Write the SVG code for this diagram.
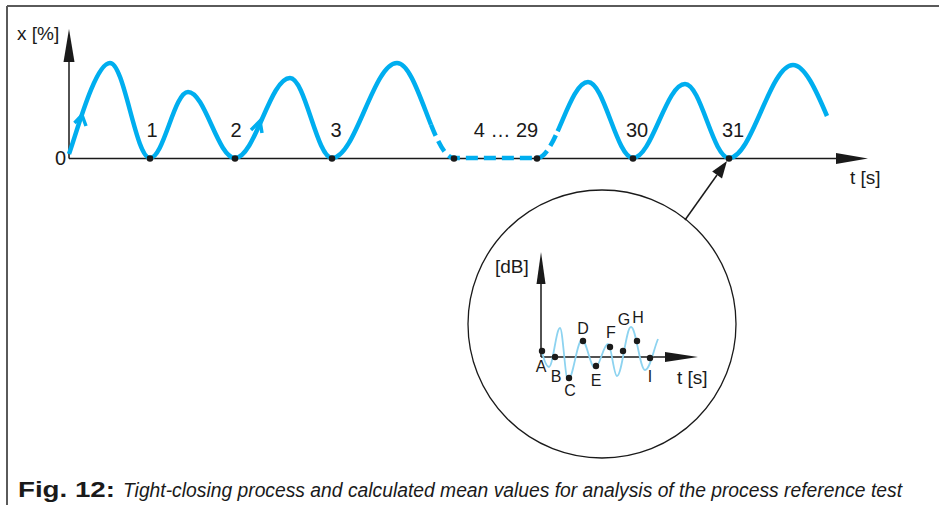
<svg xmlns="http://www.w3.org/2000/svg" width="939" height="505" viewBox="0 0 939 505">
<style>
.frame{stroke:#5a5a5a;stroke-width:2;fill:none}
.axis{stroke:#1a1a1a;stroke-width:1.5;fill:none}
.head{fill:#1a1a1a;stroke:none}
.wave{stroke:#00aeef;stroke-width:4.5;fill:none;stroke-linejoin:round}
.dash{stroke-dasharray:12 6}
.chev{stroke:#00aeef;stroke-width:3.5;fill:none;stroke-linejoin:miter;stroke-linecap:butt}
.small{stroke:#8dd3f0;stroke-width:1.8;fill:none}
.dot{fill:#1a1a1a}
.lbl{font-family:"Liberation Sans",Arial,sans-serif;fill:#1a1a1a}
.num{font-size:20px;text-anchor:middle}
.let{font-size:16px;text-anchor:middle}
</style>
<rect width="939" height="505" fill="#ffffff"/>
<g id="frame">
<path class="frame" d="M7,6 H939 M7,6 V505"/>
</g>
<g id="main-axes">
<path class="axis" d="M69,158.5 V60 M69,158.5 H840"/>
<polygon class="head" points="69,29 74.5,62 63.5,62"/>
<polygon class="head" points="868,158.5 836,153 836,164"/>
<text class="lbl" x="17" y="40" font-size="19">x [%]</text>
<text class="lbl" x="66" y="165" font-size="20" text-anchor="end">0</text>
<text class="lbl" x="850" y="184" font-size="19">t [s]</text>
</g>
<g id="process-curve">
<path class="wave" d="M69,154 C76,135 95,63 110,63 C124.5,63 135.5,158 150,158 C163.8,158 174.2,92 188,92 C205.1,92 217.9,158 235,158 C255,158 270,78 290,78 C305.2,78 316.8,158 332,158 C355.6,158 373.4,63 397,63 C409.42,63 420,97.2 430.96,124.56"/>
<path class="wave dash" d="M430.96,124.56 C438.26,142.8 445.72,158 454,158 L537,158 C544.4,158 551.08,145.84 557.62,131.25"/>
<path class="wave" d="M557.62,131.25 C567.42,109.36 576.9,82 588,82 C604.3,82 616.7,158 633,158 C651.9,158 666.1,84 685,84 C701,84 713,158 729,158 C752.2,158 769.8,65 793,65 C804.6,65 816,90 827,116"/>
<polyline class="chev" points="74.5,123 82,115 86,126"/>
<polyline class="chev" points="251,130 260,121 262,133"/>
</g>
<g id="cycle-points">
<circle class="dot" cx="150" cy="158.5" r="3.3"/>
<circle class="dot" cx="235" cy="158.5" r="3.3"/>
<circle class="dot" cx="332" cy="158.5" r="3.3"/>
<circle class="dot" cx="454" cy="158.5" r="3.3"/>
<circle class="dot" cx="537" cy="158.5" r="3.3"/>
<circle class="dot" cx="633" cy="158.5" r="3.3"/>
<circle class="dot" cx="729" cy="158.5" r="3.3"/>
<text class="lbl num" x="152" y="137">1</text>
<text class="lbl num" x="236" y="137">2</text>
<text class="lbl num" x="336" y="137">3</text>
<text class="lbl num" x="506" y="137">4 … 29</text>
<text class="lbl num" x="637" y="137">30</text>
<text class="lbl num" x="733" y="137">31</text>
</g>
<g id="connectors">
<line class="axis" x1="685" y1="220" x2="717" y2="175"/>
<polygon class="head" points="727,161 722,178.4 712.2,171.4"/>
</g>
<g id="detail-circle">
<circle cx="602" cy="324" r="134" fill="none" stroke="#1a1a1a" stroke-width="1.3"/>
<path class="axis" d="M541,357 V280 M541,357 H668"/>
<polygon class="head" points="541,252 545.5,284 536.5,284"/>
<polygon class="head" points="698,357 665,352 665,362"/>
<path class="small" d="M542,352 C544,360 546,367 549,367 C553,367 556,328 560,328 C562.9,328 565.1,380 568,380 C573.1,380 576.9,340 582,340 C586.7,340 590.3,368 595,368 C599.7,368 603.3,344 608,344 C611.3,344 613.7,376 617,376 C622.1,376 625.9,327 631,327 C636.1,327 639.9,370 645,370 C650,370 654,348 658,339"/>
<circle class="dot" cx="542" cy="351" r="3.2"/>
<circle class="dot" cx="555" cy="357" r="3.2"/>
<circle class="dot" cx="569" cy="378" r="3.2"/>
<circle class="dot" cx="583" cy="341" r="3.2"/>
<circle class="dot" cx="596" cy="366" r="3.2"/>
<circle class="dot" cx="610" cy="347" r="3.2"/>
<circle class="dot" cx="623" cy="351" r="3.2"/>
<circle class="dot" cx="637" cy="341" r="3.2"/>
<circle class="dot" cx="650" cy="358" r="3.2"/>
<text class="lbl" x="495" y="273" font-size="19">[dB]</text>
<text class="lbl" x="677" y="384" font-size="19">t [s]</text>
<text class="lbl let" x="541" y="372">A</text>
<text class="lbl let" x="556" y="382">B</text>
<text class="lbl let" x="570" y="396">C</text>
<text class="lbl let" x="583" y="334">D</text>
<text class="lbl let" x="596" y="386">E</text>
<text class="lbl let" x="611" y="338">F</text>
<text class="lbl let" x="624" y="325">G</text>
<text class="lbl let" x="638" y="323">H</text>
<text class="lbl let" x="650" y="382">I</text>
</g>
<g id="caption">
<text class="lbl" x="18" y="497" font-size="22" font-weight="bold" textLength="97" lengthAdjust="spacingAndGlyphs">Fig. 12:</text>
<text class="lbl" x="123" y="497" font-size="20" font-style="italic" textLength="779" lengthAdjust="spacingAndGlyphs">Tight-closing process and calculated mean values for analysis of the process reference test</text>
</g>
</svg>
